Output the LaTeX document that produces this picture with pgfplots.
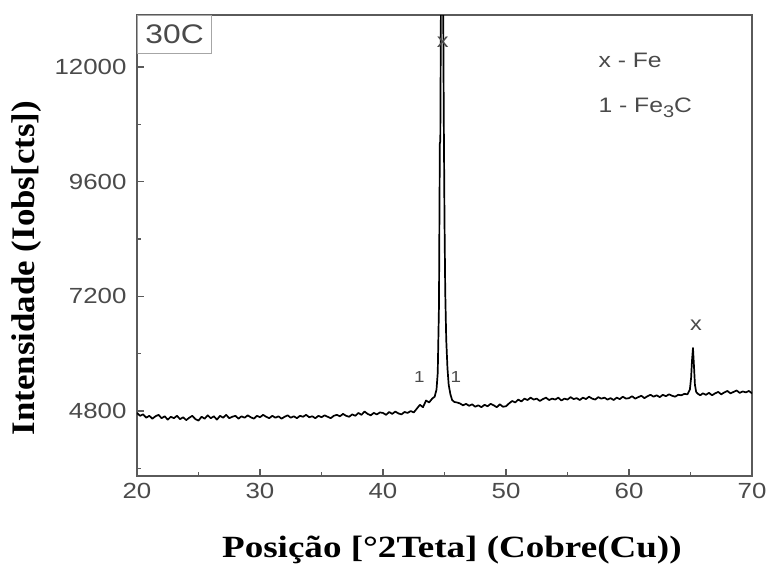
\documentclass[border=0pt]{standalone}
\usepackage{fontspec}
\setmainfont{Liberation Sans}
\newfontfamily\sansS[FakeStretch=1.18]{Liberation Sans}
\newfontfamily\serifX[FakeStretch=1.2]{Liberation Serif}
\newfontfamily\serifY[FakeStretch=1.06]{Liberation Serif}
\usepackage{pgfplots}
\pgfplotsset{compat=1.18}
\definecolor{framegray}{HTML}{5A5A5A}
\definecolor{txtgray}{HTML}{4A4A4A}
\pgfplotstableread{
x y
20.00 4760
20.25 4700
20.50 4730
20.75 4660
21.00 4700
21.25 4640
21.50 4690
21.75 4720
22.00 4650
22.25 4690
22.50 4620
22.75 4680
23.00 4650
23.25 4700
23.50 4630
23.75 4670
24.00 4610
24.25 4660
24.50 4700
24.75 4630
25.00 4600
25.25 4680
25.50 4640
25.75 4710
26.00 4650
26.25 4690
26.50 4620
26.75 4700
27.00 4660
27.25 4720
27.50 4650
27.75 4680
28.00 4700
28.25 4640
28.50 4690
28.75 4660
29.00 4710
29.25 4670
29.50 4640
29.75 4700
30.00 4670
30.25 4720
30.50 4680
30.75 4650
31.00 4700
31.25 4660
31.50 4690
31.75 4640
32.00 4680
32.25 4710
32.50 4660
32.75 4690
33.00 4650
33.25 4700
33.50 4680
33.75 4720
34.00 4670
34.25 4690
34.50 4650
34.75 4700
35.00 4670
35.25 4710
35.50 4680
35.75 4650
36.00 4700
36.25 4720
36.50 4690
36.75 4740
37.00 4700
37.25 4680
37.50 4730
37.75 4700
38.00 4760
38.25 4720
38.50 4790
38.75 4740
39.00 4710
39.25 4760
39.50 4730
39.75 4770
40.00 4760
40.25 4720
40.50 4780
40.75 4740
41.00 4790
41.25 4750
41.50 4730
41.75 4780
42.00 4760
42.25 4800
42.50 4770
42.75 4850
43.00 4930
43.25 4880
43.50 5020
43.75 4980
44.00 5060
44.20 5100
44.35 5250
44.45 5600
44.55 7000
44.62 10400
44.66 10450
44.72 14000
44.88 14000
44.94 11000
45.00 8800
45.06 7300
45.14 6300
45.24 5700
45.34 5350
45.48 5150
45.62 5030
45.80 4990
46.00 4980
46.25 4960
46.50 4920
46.75 4950
47.00 4910
47.25 4940
47.50 4890
47.75 4920
48.00 4880
48.25 4930
48.50 4900
48.75 4950
49.00 4920
49.25 4880
49.50 4940
49.75 4890
50.00 4900
50.25 4960
50.50 5010
50.75 4980
51.00 5040
51.25 5000
51.50 5060
51.75 5030
52.00 5080
52.25 5040
52.50 5060
52.75 5010
53.00 5050
53.25 5080
53.50 5030
53.75 5060
54.00 5040
54.25 5080
54.50 5020
54.75 5060
55.00 5040
55.25 5090
55.50 5050
55.75 5070
56.00 5030
56.25 5080
56.50 5050
56.75 5100
57.00 5060
57.25 5040
57.50 5090
57.75 5060
58.00 5080
58.25 5040
58.50 5070
58.75 5030
59.00 5080
59.25 5050
59.50 5100
59.75 5060
60.00 5070
60.25 5110
60.50 5060
60.75 5090
61.00 5120
61.25 5070
61.50 5110
61.75 5140
62.00 5100
62.25 5130
62.50 5090
62.75 5140
63.00 5110
63.25 5150
63.50 5120
63.75 5100
64.00 5140
64.25 5130
64.50 5160
64.75 5150
64.95 5250
65.05 5500
65.12 5850
65.20 6120
65.28 5750
65.36 5350
65.46 5200
65.60 5160
65.80 5130
66.00 5170
66.25 5140
66.50 5180
66.75 5130
67.00 5170
67.25 5200
67.50 5150
67.75 5190
68.00 5220
68.25 5170
68.50 5200
68.75 5230
69.00 5180
69.25 5210
69.50 5190
69.75 5220
70.00 5170
}\xrd
\begin{document}
\begin{tikzpicture}
\begin{axis}[
 scale only axis, width=615bp, height=461bp,
 xmin=20, xmax=70, ymin=3440, ymax=13090,
 xtick={20,30,...,70}, ytick={4800,7200,9600,12000},
 minor xtick={25,35,45,55,65}, minor ytick={3600,6000,8400,10800},
 scaled y ticks=false, scaled x ticks=false,
 tick align=inside, xtick pos=bottom, ytick pos=left,
 major tick length=7bp, minor tick length=4bp,
 tick style={framegray, line width=1.2bp},
 axis line style={framegray, line width=2.5bp},
 /pgf/number format/assume math mode=true,
 /pgf/number format/1000 sep={},
 ticklabel style={font=\sansS\fontsize{22}{22}\selectfont, text=txtgray},
 yticklabel style={xshift=-7bp},
 xticklabel style={yshift=-4bp},
 xlabel={Posição [°2Teta] (Cobre(Cu))},
 ylabel={Intensidade (Iobs[cts])},
 xlabel style={font=\serifX\bfseries\fontsize{31}{31}\selectfont, text=black, at={(rel axis cs:0.512,-0.16)}, anchor=center},
 ylabel style={font=\serifY\bfseries\fontsize{33}{33}\selectfont, text=black, at={(rel axis cs:-0.18,0.451)}, anchor=center},
 clip mode=individual,
]
\addplot[black, line width=1.7bp, line join=round, mark=none] table[x=x,y=y] {\xrd};
\node[draw=gray!70, line width=1.2bp, anchor=north west, minimum width=74bp, minimum height=38bp, inner sep=0pt, font=\sansS\fontsize{27}{27}\selectfont, text=txtgray] at (rel axis cs:0,1) {30C};
\node[anchor=base west, font=\sansS\fontsize{21}{21}\selectfont, text=txtgray] at (axis cs:57.24,12000) {x - Fe};
\node[anchor=base west, font=\sansS\fontsize{21}{21}\selectfont, text=txtgray] at (axis cs:57.24,11050) {1 - Fe\raisebox{-0.45ex}{\fontsize{17}{17}\selectfont 3}C};
\node[font=\sansS\fontsize{20}{20}\selectfont, text=txtgray] at (axis cs:44.85,12520) {x};
\node[font=\sansS\fontsize{20}{20}\selectfont, text=txtgray] at (axis cs:65.45,6600) {x};
\node[font=\sansS\fontsize{16}{16}\selectfont, text=txtgray] at (axis cs:42.95,5510) {1};
\node[font=\sansS\fontsize{16}{16}\selectfont, text=txtgray] at (axis cs:45.93,5510) {1};
\path (rel axis cs:-0.22276,-0.20607) rectangle (rel axis cs:1.03252,1.03254);
\end{axis}
\end{tikzpicture}
\end{document}
